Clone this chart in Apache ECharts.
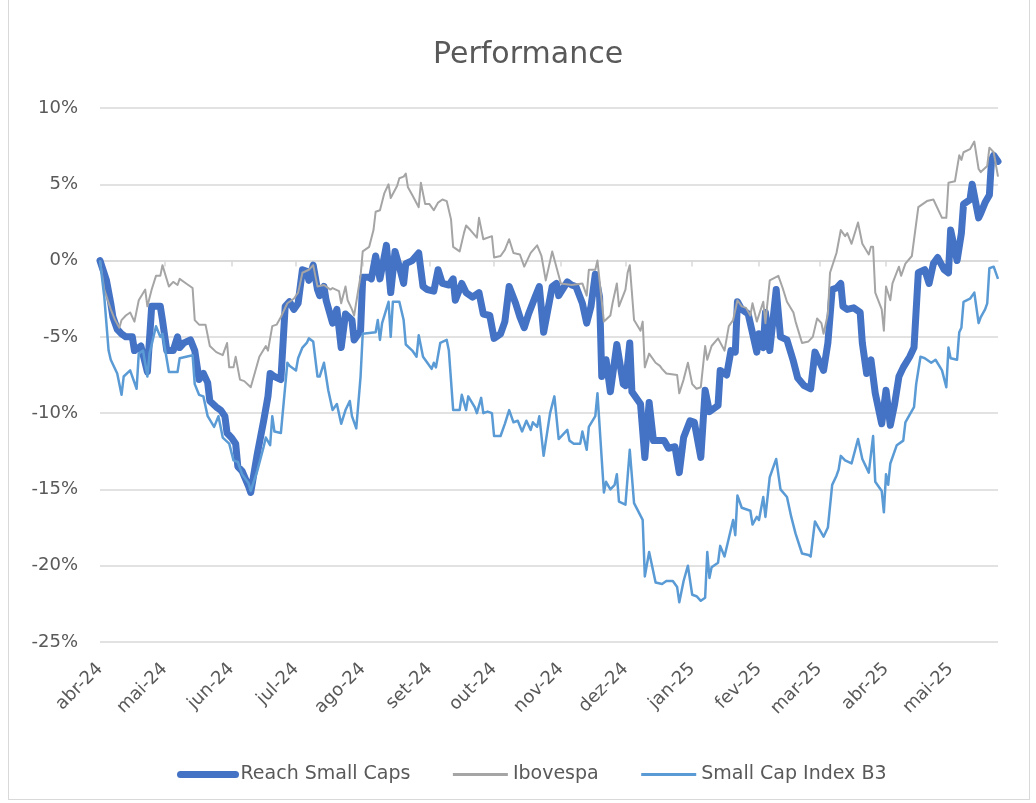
<!DOCTYPE html>
<html>
<head>
<meta charset="utf-8">
<script src="https://cdn.jsdelivr.net/npm/echarts@6/dist/echarts.min.js"></script>
<style>
  html, body { margin: 0; padding: 0; background: #fff; }
  #frame { position: absolute; left: 8px; top: -1px; width: 1022px; height: 801px; border: 1px solid #d9d9d9; box-sizing: border-box; }
  #main { position: absolute; left: 0; top: 0; width: 1036px; height: 803px; }
</style>
</head>
<body>
<div id="frame"></div>
<div id="main"></div>
<script>
// x = days since 2024-04-01, y = cumulative return in %
const reach = [
  [0,0],[3,-1.3],[5,-2.8],[6,-3.7],[8,-4.5],[10,-4.8],[12,-5.0],[15,-5.0],[16,-5.9],[19,-5.6],[22,-7.3],[24,-3.0],
  [28,-3.0],[29,-3.9],[31,-5.9],[34,-5.9],[36,-5.0],[37,-5.7],[39,-5.4],[42,-5.2],[44,-5.9],[46,-7.8],[48,-7.4],
  [50,-8.0],[51,-9.2],[54,-9.6],[56,-9.8],[58,-10.2],[59,-11.3],[61,-11.6],[63,-12.0],[64,-13.5],[66,-13.8],
  [69,-14.8],[70,-15.2],[73,-12.7],[76,-10.5],[78,-8.9],[79,-7.4],[81,-7.6],[84,-7.8],[86,-3.0],[88,-2.7],
  [90,-3.2],[92,-2.8],[94,-0.6],[96,-0.7],[97,-1.3],[99,-0.3],[101,-1.9],[102,-2.3],[104,-1.7],[105,-2.6],
  [108,-4.1],[110,-3.2],[112,-5.7],[114,-3.5],[117,-3.9],[118,-5.2],[121,-4.6],[122,-1.1],[125,-1.1],[126,-1.2],
  [128,0.3],[130,-1.2],[133,1.0],[135,-2.1],[137,0.6],[139,-0.4],[141,-1.5],[142,-0.2],[145,0.0],[148,0.5],
  [149,-0.6],[150,-1.7],[152,-1.9],[155,-2.0],[157,-0.6],[159,-1.5],[162,-1.6],[164,-1.2],[165,-2.6],[168,-1.5],
  [170,-2.1],[173,-2.4],[176,-2.1],[178,-3.5],[181,-3.6],[183,-5.1],[186,-4.8],[188,-4.0],[190,-1.7],[193,-2.8],
  [195,-3.7],[197,-4.4],[199,-3.5],[202,-2.4],[204,-1.7],[206,-4.7],[210,-1.7],[212,-1.5],[213,-2.3],[217,-1.4],
  [219,-1.6],[221,-1.7],[224,-2.8],[226,-4.1],[228,-3.0],[230,-0.9],[232,-2.4],[233,-7.6],[235,-6.5],[237,-8.6],
  [240,-5.5],[243,-8.1],[244,-8.2],[246,-5.4],[247,-8.6],[251,-9.4],[253,-12.9],[255,-9.3],[257,-11.8],
  [262,-11.8],[264,-12.3],[267,-12.2],[269,-13.9],[271,-11.6],[274,-10.5],[276,-10.6],[279,-12.9],[281,-8.5],
  [283,-9.9],[287,-9.5],[288,-7.2],[291,-7.5],[293,-5.9],[295,-6.0],[296,-2.7],[298,-3.2],[301,-3.5],[305,-6.0],
  [306,-4.8],[308,-5.7],[309,-3.4],[311,-5.9],[314,-1.9],[316,-5.0],[319,-5.2],[322,-6.6],[324,-7.7],[327,-8.2],
  [330,-8.4],[332,-6.0],[336,-7.2],[338,-5.4],[340,-1.9],[342,-1.8],[344,-1.5],[345,-3.0],[347,-3.2],[350,-3.1],
  [353,-3.4],[354,-5.4],[356,-7.4],[358,-6.5],[360,-8.7],[363,-10.7],[365,-8.5],[367,-10.8],[369,-9.4],
  [371,-7.6],[373,-7.0],[376,-6.3],[378,-5.7],[380,-0.8],[383,-0.6],[385,-1.5],[387,-0.2],[389,0.2],[392,-0.6],
  [394,-0.8],[395,2.0],[398,0.0],[400,1.8],[401,3.7],[404,4.0],[405,5.0],[408,2.8],[409,3.1],[411,3.8],
  [413,4.3],[414,6.6],[415,6.9],[417,6.5]
];
const ibovespa = [
  [0,0],[2,-1.9],[5,-3.2],[7,-3.9],[9,-4.4],[10,-3.9],[12,-3.6],[14,-3.4],[16,-4.0],[18,-2.6],[21,-1.9],[22,-3.0],
  [24,-1.9],[26,-1.0],[28,-1.0],[29,-0.3],[32,-1.7],[34,-1.4],[36,-1.6],[37,-1.2],[40,-1.5],[43,-1.8],[44,-3.9],
  [46,-4.2],[49,-4.2],[51,-5.6],[54,-6.0],[57,-6.2],[59,-5.4],[60,-7.0],[62,-7.0],[63,-6.3],[65,-7.8],[67,-7.9],
  [70,-8.3],[72,-7.3],[74,-6.3],[77,-5.6],[78,-5.9],[80,-4.3],[82,-4.2],[84,-3.7],[87,-2.8],[90,-2.5],[92,-2.1],
  [94,-0.8],[97,-0.6],[99,-0.3],[101,-1.7],[104,-1.6],[107,-1.9],[108,-1.8],[111,-2.0],[112,-2.8],[114,-1.7],
  [115,-2.6],[117,-3.2],[118,-3.6],[121,-1.0],[122,0.6],[125,0.9],[127,2.0],[128,3.2],[130,3.3],[132,4.4],
  [134,5.0],[135,4.1],[138,4.9],[139,5.4],[141,5.5],[142,5.7],[143,4.8],[145,4.3],[148,3.5],[149,5.1],[151,3.7],
  [153,3.7],[155,3.3],[157,3.8],[159,4.0],[161,3.9],[163,2.7],[164,0.9],[167,0.6],[169,1.8],[170,2.3],[172,2.0],
  [175,1.5],[176,2.8],[178,1.4],[182,1.6],[183,0.2],[186,0.3],[188,0.7],[190,1.4],[192,0.5],[195,0.4],[197,-0.4],
  [200,0.5],[203,1.0],[205,0.3],[207,-1.3],[210,0.6],[214,-1.5],[219,-1.6],[224,-1.5],[226,-2.3],[227,-0.6],
  [230,-0.6],[231,0.0],[234,-4.0],[237,-3.6],[238,-2.8],[240,-1.5],[241,-3.0],[244,-1.9],[245,-0.8],[246,-0.3],
  [248,-3.9],[251,-4.6],[252,-4.0],[253,-7.0],[255,-6.1],[258,-6.7],[260,-6.9],[261,-7.1],[263,-7.4],[268,-7.5],
  [269,-8.7],[271,-7.8],[273,-6.7],[275,-8.1],[277,-8.4],[279,-8.3],[281,-5.6],[282,-6.5],[284,-5.6],[287,-5.1],
  [290,-5.9],[292,-4.3],[294,-3.9],[296,-2.6],[298,-3.0],[300,-3.1],[302,-3.6],[303,-2.8],[305,-4.0],[308,-2.7],
  [309,-4.1],[311,-1.3],[315,-1.0],[317,-1.8],[319,-2.7],[322,-3.4],[323,-4.0],[326,-5.4],[329,-5.3],[331,-5.0],
  [333,-3.8],[335,-4.1],[336,-4.8],[338,-3.5],[339,-0.8],[342,0.5],[344,2.0],[346,1.6],[347,1.8],[349,1.1],
  [352,2.5],[354,1.1],[357,0.4],[358,0.9],[359,0.9],[360,-2.1],[363,-3.2],[364,-4.6],[365,-1.7],[367,-2.6],
  [368,-1.5],[371,-0.4],[372,-1.0],[374,-0.2],[377,0.3],[380,3.5],[384,3.9],[387,4.0],[391,2.8],[393,2.8],
  [394,5.1],[397,5.2],[399,6.9],[400,6.6],[401,7.1],[404,7.3],[406,7.8],[408,6.0],[409,5.8],[412,6.2],[413,7.4],
  [415,7.1],[417,5.5]
];
const smallCap = [
  [0,0],[2,-2.4],[4,-5.9],[5,-6.5],[8,-7.4],[10,-8.8],[11,-7.6],[14,-7.2],[17,-8.4],[18,-6.1],[20,-5.9],[22,-7.6],
  [23,-6.1],[26,-4.3],[28,-5.0],[29,-4.8],[32,-7.3],[36,-7.3],[37,-6.4],[40,-6.3],[43,-6.2],[44,-8.1],[46,-8.8],
  [48,-8.9],[50,-10.2],[53,-10.9],[55,-10.2],[57,-11.6],[60,-12.0],[62,-13.1],[64,-13.2],[66,-14.0],[69,-14.6],
  [70,-15.1],[73,-13.8],[76,-12.2],[77,-11.6],[79,-12.1],[80,-10.2],[81,-11.2],[84,-11.3],[87,-6.7],[88,-6.9],
  [91,-7.2],[92,-6.4],[94,-5.7],[96,-5.4],[97,-5.1],[99,-5.3],[101,-7.6],[102,-7.6],[104,-6.7],[106,-8.5],
  [108,-9.8],[110,-9.4],[112,-10.7],[114,-9.8],[116,-9.2],[117,-10.2],[119,-11.0],[121,-7.6],[122,-4.8],
  [128,-4.7],[129,-3.9],[130,-5.2],[131,-4.1],[134,-2.7],[135,-5.0],[136,-2.7],[139,-2.7],[141,-3.9],[142,-5.5],
  [145,-5.9],[147,-6.3],[148,-4.9],[150,-6.3],[152,-6.7],[154,-7.1],[155,-6.7],[156,-7.0],[158,-5.4],[161,-5.2],
  [162,-5.9],[164,-9.8],[167,-9.8],[168,-8.8],[170,-9.8],[171,-8.9],[174,-9.6],[175,-10.0],[177,-9.0],[178,-10.0],
  [180,-9.9],[182,-10.0],[183,-11.5],[186,-11.5],[188,-10.7],[190,-9.8],[192,-10.6],[194,-10.5],[196,-11.2],
  [198,-10.5],[200,-11.1],[201,-10.6],[203,-10.9],[204,-10.2],[206,-12.8],[209,-10.0],[211,-8.9],[213,-11.7],
  [217,-11.1],[218,-11.8],[220,-12.0],[223,-12.0],[224,-11.2],[226,-12.4],[227,-10.9],[230,-10.2],[231,-8.7],
  [234,-15.2],[235,-14.5],[237,-15.0],[239,-14.7],[240,-14.0],[241,-15.8],[244,-16.0],[246,-12.4],[248,-15.9],
  [252,-17.0],[253,-20.7],[255,-19.1],[258,-21.1],[261,-21.2],[263,-21.0],[266,-21.0],[268,-21.4],[269,-22.4],
  [271,-21.0],[273,-20.0],[275,-21.9],[277,-22.0],[279,-22.3],[281,-22.1],[282,-19.1],[283,-20.8],[284,-20.1],
  [287,-19.8],[288,-18.7],[290,-19.4],[292,-18.2],[294,-17.0],[295,-18.0],[296,-15.4],[298,-16.2],[302,-16.4],
  [303,-17.3],[305,-16.8],[306,-17.0],[308,-15.5],[309,-16.8],[311,-14.2],[314,-13.0],[316,-15.0],[319,-15.5],
  [321,-16.8],[323,-17.9],[326,-19.2],[329,-19.3],[330,-19.4],[332,-17.1],[334,-17.6],[336,-18.1],[338,-17.5],
  [340,-14.7],[342,-14.1],[343,-13.7],[344,-12.8],[346,-13.1],[349,-13.3],[352,-11.7],[354,-13.0],[357,-13.9],
  [359,-11.5],[360,-14.5],[363,-15.1],[364,-16.5],[365,-14.0],[366,-14.7],[367,-13.3],[370,-12.1],[373,-11.8],
  [374,-10.6],[376,-10.1],[378,-9.6],[379,-8.1],[381,-6.3],[383,-6.4],[386,-6.7],[388,-6.5],[391,-7.2],[393,-8.3],
  [394,-5.7],[395,-6.4],[398,-6.5],[399,-4.7],[400,-4.4],[401,-2.7],[404,-2.5],[406,-2.1],[408,-4.1],[409,-3.7],
  [411,-3.2],[412,-2.8],[413,-0.5],[415,-0.4],[417,-1.2]
];
const monthLabels = ['abr-24','mai-24','jun-24','jul-24','ago-24','set-24','out-24','nov-24',
  'dez-24','jan-25','fev-25','mar-25','abr-25','mai-25'];
const yTicks = [-25, -20, -15, -10, -5, 0, 5, 10];
const lastDay = 417;

// month starts as day offsets from 2024-04-01
const start = Date.UTC(2024, 3, 1);
const monthDays = monthLabels.map((m, i) => Math.round((Date.UTC(2024, 3 + i, 1) - start) / 86400000));

const chart = echarts.init(document.getElementById('main'), null, { renderer: 'canvas' });
const grey = '#595959';
const font = 'DejaVu Sans';

const option = {
  animation: false,
  textStyle: { fontFamily: font },
  title: {
    text: 'Performance',
    left: 428,
    top: 35,
    textStyle: { fontSize: 30, fontWeight: 'normal', color: grey, fontFamily: font }
  },
  legend: {
    left: 172,
    top: 760,
    itemWidth: 55,
    itemHeight: 14,
    itemGap: 41,
    textStyle: { fontSize: 19, color: grey, fontFamily: font },
    itemStyle: { opacity: 0 },
    data: [
      { name: 'Reach Small Caps', lineStyle: { width: 7, cap: 'round' } },
      { name: 'Ibovespa', lineStyle: { width: 3 } },
      { name: 'Small Cap Index B3', lineStyle: { width: 3 } }
    ]
  },
  grid: { left: 100, right: 38, top: 108, bottom: 161 },
  xAxis: [
    {
      type: 'value',
      min: 0,
      max: lastDay,
      axisLine: { show: false, onZero: false },
      axisTick: { show: false },
      splitLine: { show: false },
      axisLabel: {
        customValues: monthDays,
        rotate: 45,
        margin: 24,
        fontSize: 18,
        color: grey,
        fontFamily: font,
        formatter: v => monthLabels[monthDays.indexOf(v)] || ''
      }
    },
    {
      type: 'value',
      min: 0,
      max: lastDay,
      position: 'bottom',
      axisLine: { show: true, onZero: true, lineStyle: { color: '#d9d9d9', width: 1.5 } },
      axisTick: { show: true, customValues: monthDays, length: 6, lineStyle: { color: '#d9d9d9', width: 1.5 } },
      axisLabel: { show: false },
      splitLine: { show: false }
    }
  ],
  yAxis: {
    type: 'value',
    min: yTicks[0],
    max: yTicks[yTicks.length - 1],
    interval: 5,
    axisLine: { show: false },
    axisTick: { show: false },
    axisLabel: { formatter: '{value}%', fontSize: 18, color: grey, fontFamily: font, margin: 22 },
    splitLine: { lineStyle: { color: '#d9d9d9', width: 1.5 } }
  },
  series: [
    {
      name: 'Reach Small Caps',
      type: 'line',
      showSymbol: false,
      symbol: 'none',
      color: '#4472C4',
      lineStyle: { width: 7, color: '#4472C4', cap: 'round', join: 'round' },
      data: reach
    },
    {
      name: 'Ibovespa',
      type: 'line',
      showSymbol: false,
      symbol: 'none',
      color: '#A5A5A5',
      lineStyle: { width: 2, color: '#A5A5A5', join: 'round' },
      data: ibovespa
    },
    {
      name: 'Small Cap Index B3',
      type: 'line',
      showSymbol: false,
      symbol: 'none',
      color: '#5B9BD5',
      lineStyle: { width: 2.5, color: '#5B9BD5', join: 'round' },
      data: smallCap
    }
  ]
};
chart.setOption(option);
</script>
</body>
</html>
